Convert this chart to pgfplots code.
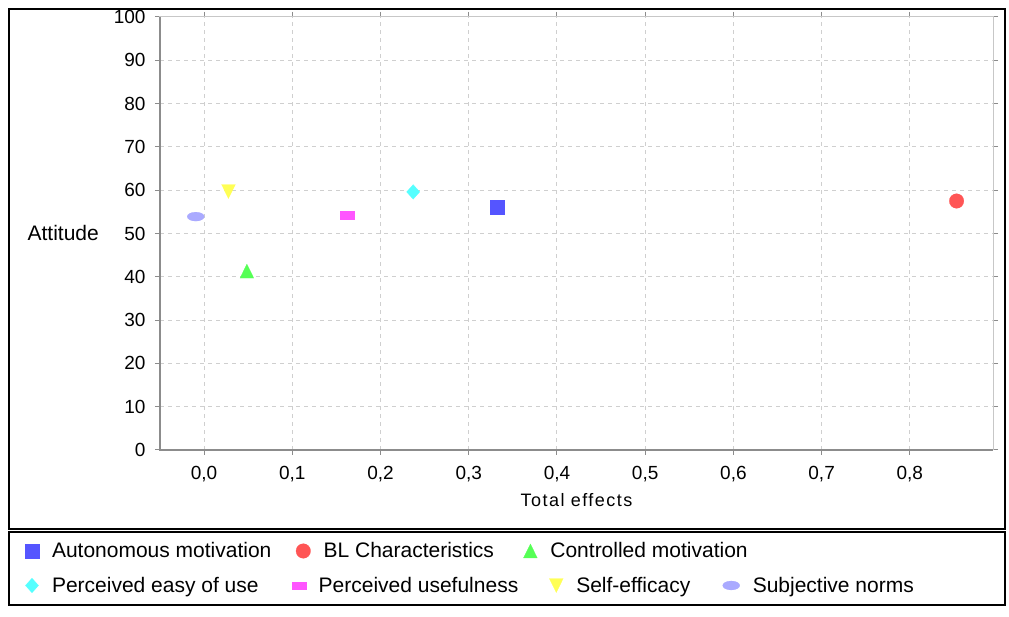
\documentclass[border=0pt]{standalone}
\usepackage{fontspec}
\setmainfont{Liberation Sans}
\newfontfamily\spacedsans[LetterSpace=8]{Liberation Sans}
\usepackage{pgfplots}
\pgfplotsset{compat=1.18}

\definecolor{cauto}{HTML}{5555FF}
\definecolor{cbl}{HTML}{FF5555}
\definecolor{cctrl}{HTML}{55FF55}
\definecolor{cease}{HTML}{55FFFF}
\definecolor{cuse}{HTML}{FF55FF}
\definecolor{cself}{HTML}{FFFF55}
\definecolor{cnorm}{HTML}{AAAAFF}

% legend text in a box of fixed width, so the icons land where they should
\newcommand{\lt}[2]{\makebox[#1][l]{\rule{0pt}{15pt}\smash{#2}}}

\pgfplotsset{
  iconcode/.style={legend image code/.code={%
    \path[draw=none, fill=none] (0pt,-7pt) rectangle (14pt,7pt);
    \draw[##1] plot coordinates {(7pt,0pt)};}},
  sAuto/.style={only marks, color=cauto, mark=square*, mark size=7pt, mark options={line width=0.2pt}, iconcode},
  sBL/.style={only marks, color=cbl, mark=*, mark size=7.3pt, mark options={line width=0.2pt}, iconcode},
  sCtrl/.style={only marks, color=cctrl, mark=triangle*, mark size=8pt, mark options={line width=0.2pt, yshift=-2.3pt, yscale=1.17}, iconcode},
  sEase/.style={only marks, color=cease, mark=diamond*, mark size=7.3pt, mark options={line width=0.2pt, xscale=1.2}, iconcode},
  sUse/.style={only marks, color=cuse, mark=square*, mark size=7pt, mark options={line width=0.2pt, yscale=0.55}, iconcode},
  sSelf/.style={only marks, color=cself, mark=triangle*, mark size=8pt, mark options={line width=0.2pt, yshift=2.3pt, yscale=1.17, rotate=180}, iconcode},
  sNorm/.style={only marks, color=cnorm, mark=*, mark size=4.5pt, mark options={line width=0.2pt, xscale=1.9}, iconcode},
  frame/.style={scale only axis, width=833pt, height=433pt, at={(160pt,167pt)}, anchor=south west},
  legrow/.style={frame, hide axis, xmin=0, xmax=1, ymin=0, ymax=1,
    legend columns=-1, legend cell align=left,
    legend style={draw=none, fill=none, inner sep=0pt, outer sep=0pt, anchor=west,
      font=\fontsize{21}{25}\selectfont, nodes={inner sep=0pt},
      /tikz/every odd column/.append style={column sep=13pt}}},
}

\begin{document}
\begin{tikzpicture}[x=1pt, y=1pt]
\path[use as bounding box] (0,0) rectangle (1009,617);
\draw[line width=2pt] (9,608) rectangle (1005,87.5);
\draw[line width=2pt] (9,85) rectangle (1005,11.5);

\begin{axis}[frame,
  xmin=-0.05, xmax=0.8943, ymin=0, ymax=100,
  xtick={0,0.1,0.2,0.3,0.4,0.5,0.6,0.7,0.8},
  ytick={0,10,20,30,40,50,60,70,80,90,100},
  /pgf/number format/assume math mode=true,
  tick label style={font=\fontsize{19}{23}\selectfont, inner sep=0pt},
  yticklabel style={xshift=-9.3pt},
  xticklabel style={yshift=-11pt, /pgf/number format/.cd, fixed, fixed zerofill, precision=1, use comma},
  grid=major,
  major grid style={dash pattern=on 4pt off 4pt, line width=1pt, color=black!19},
  axis line style={draw=black!22, line width=1pt},
  tick align=outside, major tick length=5pt,
  tick style={color=black!45, line width=1pt},
  xlabel={Total effects},
  xlabel style={at={(axis description cs:0.5,-0.11547)}, anchor=center, inner sep=0pt,
    font=\fontsize{18}{22}\selectfont\spacedsans},
  ylabel={Attitude},
  ylabel style={rotate=-90, at={(axis description cs:-0.07323,0.50115)}, anchor=east,
    inner sep=0pt, font=\fontsize{21}{25}\selectfont},
  clip=false,
]
\addplot[sAuto] coordinates {(0.332,56.0)};
\addplot[sBL]   coordinates {(0.853,57.5)};
\addplot[sCtrl] coordinates {(0.0485,41.3)};
\addplot[sEase] coordinates {(0.237,59.6)};
\addplot[sUse]  coordinates {(0.162,54.3)};
\addplot[sSelf] coordinates {(0.0276,59.7)};
\addplot[sNorm] coordinates {(-0.0095,53.9)};
\draw[black!45, line width=2pt] (rel axis cs:0,1) -- (rel axis cs:0,0) -- (rel axis cs:1,0);
\end{axis}

% legend, first row
\begin{axis}[legrow, legend style={at={(-0.16207,-0.23326)}}]
\addlegendimage{sAuto}\addlegendentry{\lt{244pt}{Autonomous motivation}}
\addlegendimage{sBL}\addlegendentry{\lt{199.8pt}{BL Characteristics}}
\addlegendimage{sCtrl}\addlegendentry{\lt{200pt}{Controlled motivation}}
\end{axis}

% legend, second row
\begin{axis}[legrow, legend style={at={(-0.16207,-0.31293)}}]
\addlegendimage{sEase}\addlegendentry{\lt{239.7pt}{Perceived easy of use}}
\addlegendimage{sUse}\addlegendentry{\lt{230.6pt}{Perceived usefulness}}
\addlegendimage{sSelf}\addlegendentry{\lt{146.4pt}{Self-efficacy}}
\addlegendimage{sNorm}\addlegendentry{\lt{170pt}{Subjective norms}}
\end{axis}
\end{tikzpicture}
\end{document}
